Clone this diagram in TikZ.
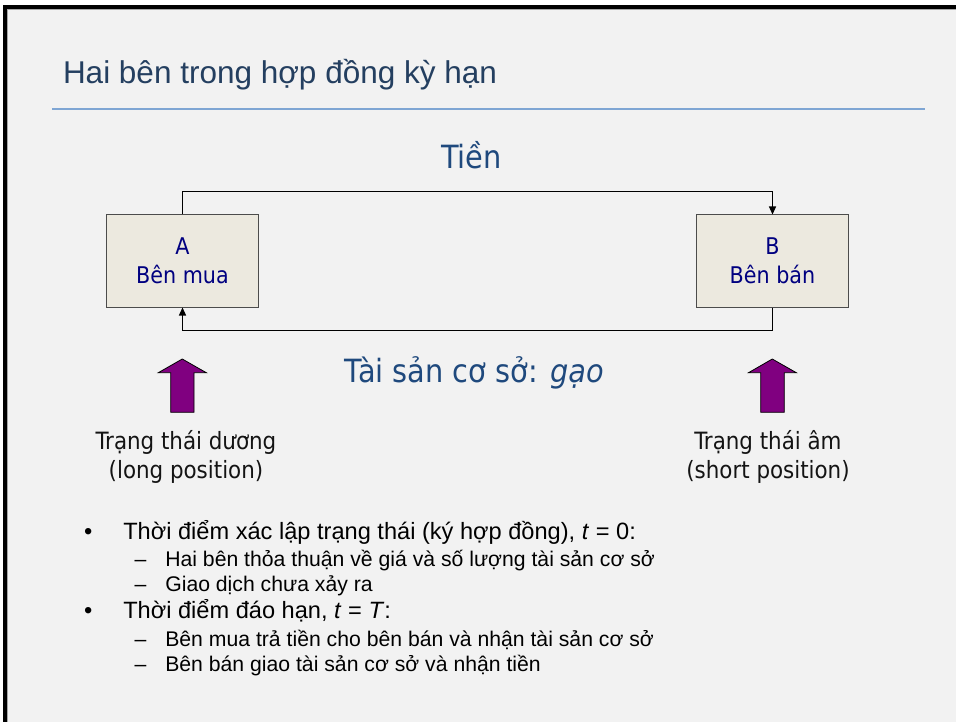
\documentclass[tikz,border=0pt]{standalone}
\usepackage{fontspec}
\setmainfont{Liberation Sans}
\newfontfamily\tahoma{DejaVu Sans Condensed}
\usetikzlibrary{arrows.meta}
\definecolor{slidebg}{HTML}{F2F2F2}
\definecolor{titlec}{HTML}{243F60}
\definecolor{rulec}{HTML}{7FA6D4}
\definecolor{headc}{HTML}{1F497D}
\definecolor{boxfill}{HTML}{ECE9DF}
\definecolor{boxtext}{HTML}{000080}
\definecolor{arrowc}{HTML}{800080}
\begin{document}
\begin{tikzpicture}[x=1pt,y=-1pt,
  txt/.style={inner sep=0pt, outer sep=0pt, anchor=base west},
  party/.style={draw=black!70, line width=1pt, fill=boxfill, minimum width=152pt, minimum height=92pt,
    inner sep=0pt, align=center, text=boxtext, font=\tahoma\fontsize{23}{29}\selectfont},
  flow/.style={line width=1.3pt, -{Triangle[length=8pt,width=7pt]}},
  big/.style={inner sep=0pt, anchor=base, text=headc, font=\tahoma\fontsize{32}{38}\selectfont},
  lbl/.style={inner sep=0pt, align=center, text=black!92, font=\tahoma\fontsize{23.8}{29}\selectfont},
  bul/.style={txt, font=\fontsize{23.6}{28}\selectfont, text=black},
  sub/.style={txt, font=\fontsize{21.2}{25}\selectfont, text=black},
  posarrow/.style={fill=arrowc, draw=black, line width=0.8pt, line join=miter}
]
\useasboundingbox (0,0) rectangle (956,722);
\fill[white] (0,0) rectangle (956,722);
\fill[slidebg] (7,9) rectangle (956,722);
\fill[black] (3,5.5) rectangle (956,9);
\fill[black] (3,5.5) rectangle (7,722);
\draw[gray!70, line width=0.8pt] (7.4,722) -- (7.4,9.4) -- (956,9.4);

% title
\node[txt, text=titlec, font=\fontsize{31.5}{36}\selectfont] (title) at (63,84) {Hai bên trong hợp đồng kỳ hạn};
\draw[rulec, line width=1.2pt] (52,109) -- (925,109);

% parties
\node[party] (A) at (182.5,261) {A\\Bên mua};
\node[party] (B) at (772.5,261) {B\\Bên bán};

\draw[flow] (A.north) -- ++(0,-23.3) -| (B.north);
\draw[flow] (B.south) -- ++(0,23.3) -| (A.south);

\node[big] (tien) at (471.5,168.3) {Tiền};
\node[big] (asset) at (474,382) {Tài sản cơ sở: \textit{gạo}};

% position arrows
\filldraw[posarrow] (170.7,412.3) -- (170.7,372.7) -- (158.3,372.7) -- (182.3,359) -- (206.3,372.7) -- (194,372.7) -- (194,412.3) -- cycle;
\filldraw[posarrow] (760.7,412.3) -- (760.7,372.7) -- (748.5,372.7) -- (772.3,359) -- (796.3,372.7) -- (784.3,372.7) -- (784.3,412.3) -- cycle;

\node[lbl, anchor=base] (longl) at (186,478) {Trạng thái dương\\(long position)};
\node[lbl, anchor=base] (shortl) at (768,478) {Trạng thái âm\\(short position)};

% bullets
\node[bul] (b1) at (84,539) {•};
\node[bul] (t1) at (123.3,539) {Thời điểm xác lập trạng thái (ký hợp đồng), \textit{t} = 0:};
\node[sub] (d1) at (134.5,566.7) {–};
\node[sub] (s1) at (165.3,566.7) {Hai bên thỏa thuận về giá và số lượng tài sản cơ sở};
\node[sub] (d2) at (134.5,591.7) {–};
\node[sub] (s2) at (165.3,591.7) {Giao dịch chưa xảy ra};
\node[bul] (b2) at (84,618) {•};
\node[bul] (t2) at (123.3,618) {Thời điểm đáo hạn, \textit{t} = \textit{T}:};
\node[sub] (d3) at (134.5,646.7) {–};
\node[sub] (s3) at (165.3,646.7) {Bên mua trả tiền cho bên bán và nhận tài sản cơ sở};
\node[sub] (d4) at (134.5,671.7) {–};
\node[sub] (s4) at (165.3,671.7) {Bên bán giao tài sản cơ sở và nhận tiền};
\end{tikzpicture}
\end{document}
